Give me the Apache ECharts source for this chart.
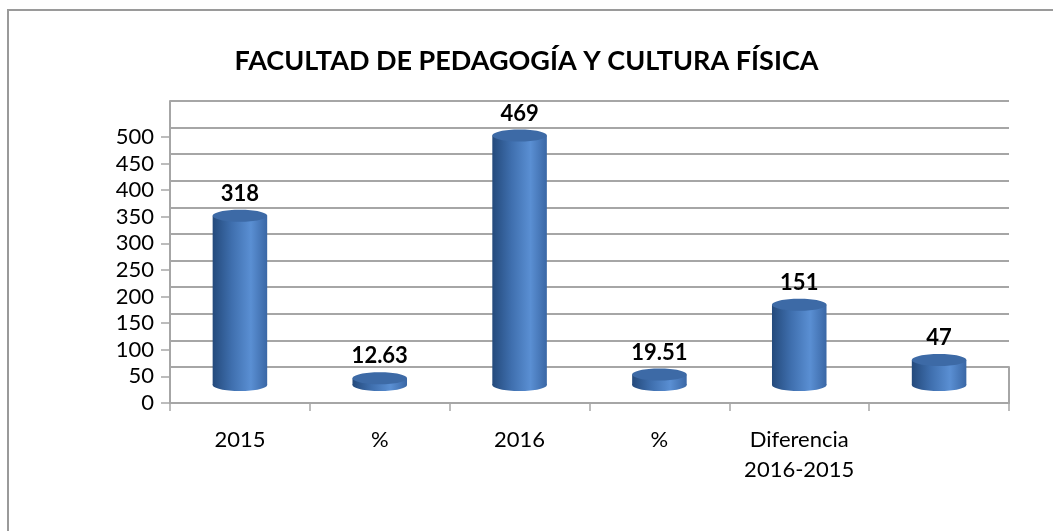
<!DOCTYPE html>
<html>
<head>
<meta charset="utf-8">
<script src="https://cdn.jsdelivr.net/npm/echarts@6/dist/echarts.min.js"></script>
<style>
  html, body { margin: 0; padding: 0; background: #fff; }
  #chart { width: 1053px; height: 531px; }
</style>
</head>
<body>
<div id="chart"></div>
<script>
const categories = ['2015', '%', '2016', '%', 'Diferencia\n2016-2015', ''];
const values = [318, 12.63, 469, 19.51, 151, 47];
const yTicks = [0, 50, 100, 150, 200, 250, 300, 350, 400, 450, 500];

const chart = echarts.init(document.getElementById('chart'));
const FONT = 'Lato, "Open Sans", sans-serif';
const GRID_GRAY = '#a6a6a6';

// Excel-like 3D cylinder drawn in the "mid depth" grid
function renderCylinder(params, api) {
  const idx = api.value(0);
  const val = api.value(1);
  const base = api.coord([idx, 0]);
  const top = api.coord([idx, val]);
  const rx = api.size([1, 0])[0] * 0.195;
  const ry = 6;
  const bodyFill = new echarts.graphic.LinearGradient(0, 0, 1, 0, [
    { offset: 0, color: '#244a7c' },
    { offset: 0.35, color: '#3f6fae' },
    { offset: 0.7, color: '#5a8fd3' },
    { offset: 1, color: '#3a67a5' }
  ]);
  return {
    type: 'group',
    children: [
      {
        type: 'ellipse',
        shape: { cx: base[0], cy: base[1], rx: rx, ry: ry },
        style: { fill: bodyFill }
      },
      {
        type: 'rect',
        shape: { x: base[0] - rx, y: top[1], width: rx * 2, height: base[1] - top[1] },
        style: { fill: bodyFill }
      },
      {
        type: 'ellipse',
        shape: { cx: top[0], cy: top[1], rx: rx, ry: ry },
        style: { fill: '#3d6aa6' }
      },
      {
        type: 'text',
        x: top[0],
        y: top[1] - 22,
        style: {
          text: String(val),
          fontFamily: FONT,
          fontWeight: 'bold',
          fontSize: 22,
          fill: '#000',
          align: 'center',
          verticalAlign: 'middle'
        }
      }
    ]
  };
}

const option = {
  animation: false,
  title: {
    text: 'FACULTAD DE PEDAGOGÍA Y CULTURA FÍSICA',
    left: 'center',
    top: 43,
    textStyle: { fontFamily: FONT, fontSize: 27, fontWeight: 'bold', color: '#000' }
  },
  graphic: [
    {
      type: 'rect',
      shape: { x: 8, y: 10, width: 1100, height: 600 },
      style: { fill: 'none', stroke: '#9a9a9a', lineWidth: 2 },
      silent: true
    }
  ],
  grid: [
    // front axis (labels and floor front edge)
    { left: 170, right: 44, top: 137, bottom: 128 },
    // back wall
    { left: 170, right: 44, top: 101, bottom: 164 },
    // floor (right edge line)
    { left: 170, right: 44, top: 367, bottom: 128 },
    // mid depth where the cylinders stand
    { left: 170, right: 44, top: 119, bottom: 146 }
  ],
  xAxis: [
    {
      type: 'category',
      gridIndex: 0,
      data: categories,
      axisLine: { show: true, lineStyle: { color: GRID_GRAY, width: 2 } },
      axisTick: { show: true, length: 8, lineStyle: { color: GRID_GRAY, width: 1.5 } },
      axisLabel: {
        fontFamily: FONT, fontSize: 22, color: '#000', margin: 22, lineHeight: 30,
        interval: 0
      }
    },
    { type: 'category', gridIndex: 1, data: categories, show: false },
    { type: 'category', gridIndex: 2, data: categories, show: false },
    { type: 'category', gridIndex: 3, data: categories, show: false }
  ],
  yAxis: [
    {
      type: 'value',
      gridIndex: 0,
      min: yTicks[0],
      max: yTicks[yTicks.length - 1],
      interval: 50,
      axisLine: { show: true, lineStyle: { color: GRID_GRAY, width: 2 } },
      axisTick: { show: true, length: 9, lineStyle: { color: GRID_GRAY, width: 1.5 } },
      axisLabel: { fontFamily: FONT, fontSize: 22, color: '#000', margin: 16 },
      splitLine: { show: false }
    },
    {
      type: 'value',
      gridIndex: 1,
      min: yTicks[0],
      max: yTicks[yTicks.length - 1],
      interval: 50,
      axisLine: { show: true, lineStyle: { color: GRID_GRAY, width: 2 } },
      axisTick: { show: false },
      axisLabel: { show: false },
      splitLine: { show: true, lineStyle: { color: GRID_GRAY, width: 2 } }
    },
    {
      type: 'value',
      gridIndex: 2,
      position: 'right',
      min: 0,
      max: 1,
      axisLine: { show: true, lineStyle: { color: GRID_GRAY, width: 2 } },
      axisTick: { show: false },
      axisLabel: { show: false },
      splitLine: { show: false }
    },
    {
      type: 'value',
      gridIndex: 3,
      min: yTicks[0],
      max: yTicks[yTicks.length - 1],
      show: false
    }
  ],
  series: [
    {
      type: 'custom',
      xAxisIndex: 3,
      yAxisIndex: 3,
      renderItem: renderCylinder,
      data: values.map((v, i) => [i, v]),
      clip: false
    }
  ]
};

chart.setOption(option);
</script>
</body>
</html>
